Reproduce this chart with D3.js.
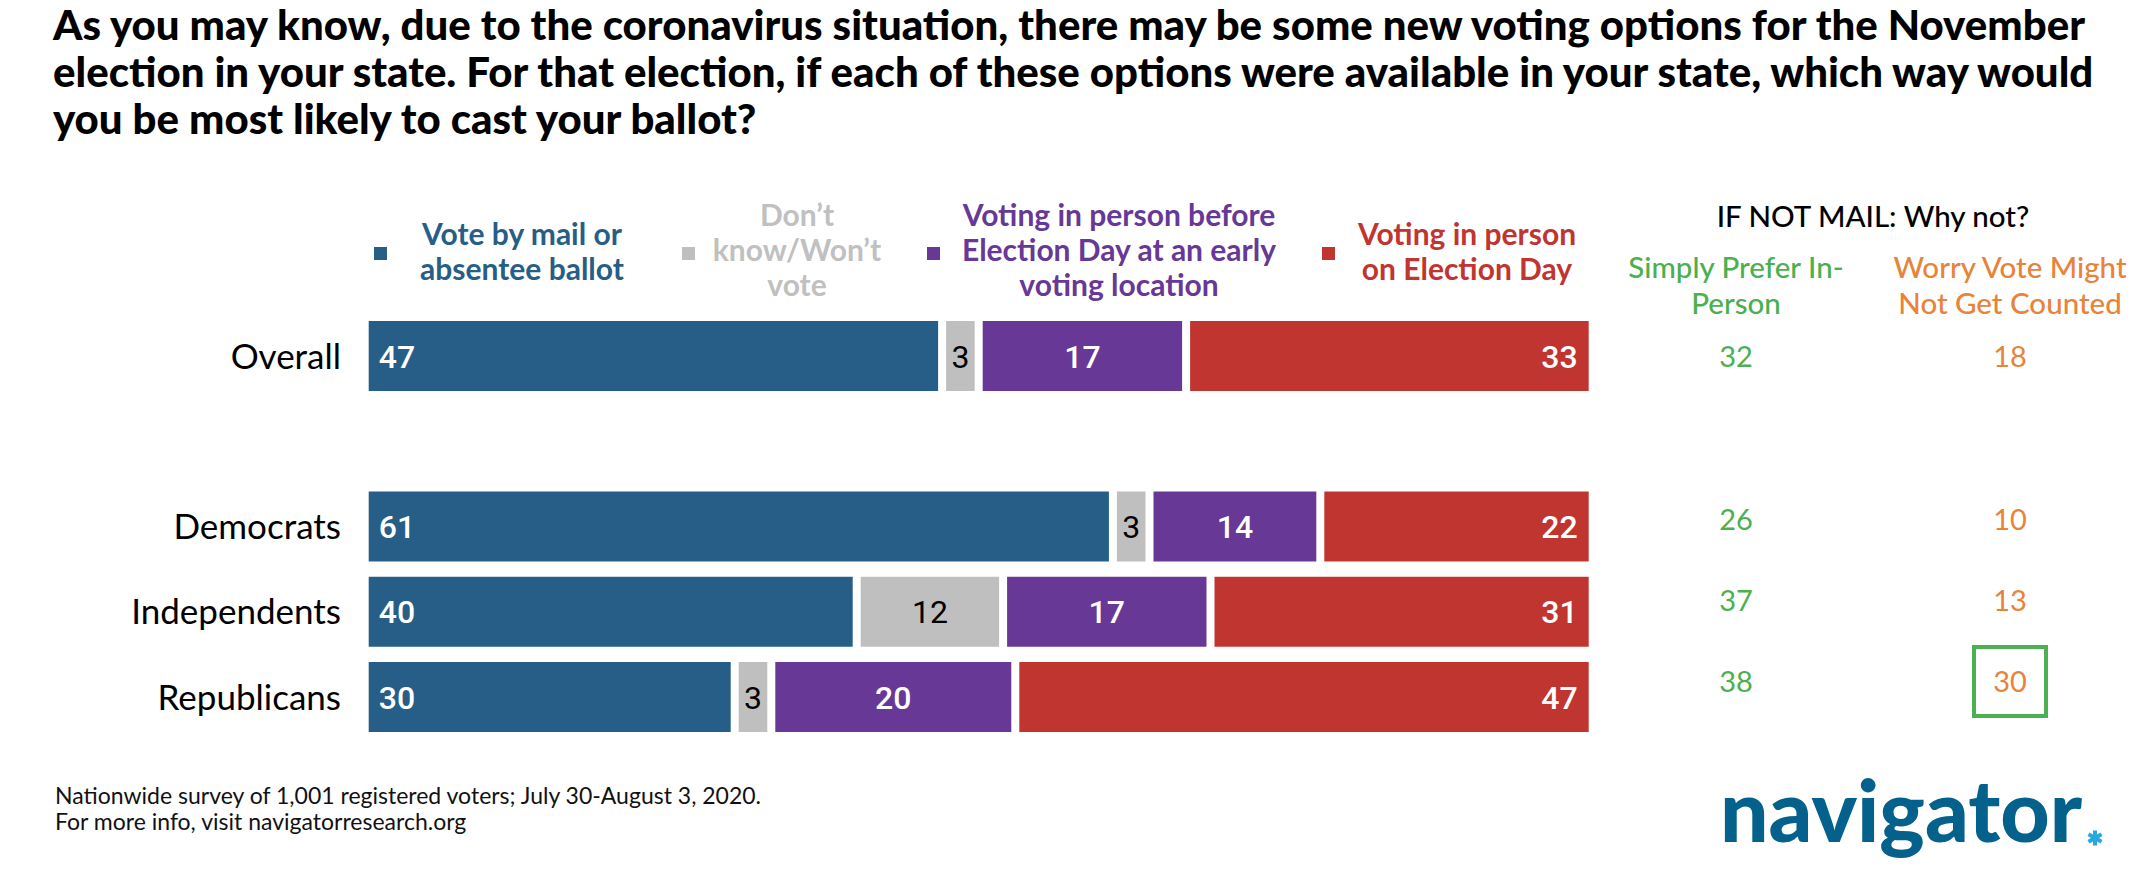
<!DOCTYPE html>
<html>
<head>
<meta charset="utf-8">
<script src="https://cdn.jsdelivr.net/npm/d3@7"></script>
<style>
  body { margin: 0; background: #fff; }
  svg text { font-family: Lato, "Noto Sans", sans-serif; }
</style>
</head>
<body>
<div id="chart"></div>
<script>
// chart data
const groups = ["Overall", "Democrats", "Independents", "Republicans"];
const rowSlots = ["Overall", "spacer", "Democrats", "Independents", "Republicans"];
const mail = [47, 61, 40, 30];
const dontKnow = [3, 3, 12, 3];
const earlyInPerson = [17, 14, 17, 20];
const electionDay = [33, 22, 31, 47];
const preferInPerson = [32, 26, 37, 38];
const worryNotCounted = [18, 10, 13, 30];
const highlightGroup = "Republicans";

const legendLines = [
    ["Vote by mail or", "absentee ballot"],
    ["Don’t", "know/Won’t", "vote"],
    ["Voting in person before", "Election Day at an early", "voting location"],
    ["Voting in person", "on Election Day"]
];
const titleLines = [
    "As you may know, due to the coronavirus situation, there may be some new voting options for the November",
    "election in your state. For that election, if each of these options were available in your state, which way would",
    "you be most likely to cast your ballot?"
];
const whyHeader = "IF NOT MAIL: Why not?";
const whyColumns = [["Simply Prefer In-", "Person"], ["Worry Vote Might", "Not Get Counted"]];
const footLines = [
    "Nationwide survey of 1,001 registered voters; July 30-August 3, 2020.",
    "For more info, visit navigatorresearch.org"
];

const colors = ["#275e87", "#bfbfbf", "#673896", "#c0352f"];
const labelColors = ["#fff", "#000", "#fff", "#fff"];
const green = "#4caf50", orange = "#e8833a";

const width = 2156, height = 886;

const svg = d3.select("#chart")
    .append("svg")
    .attr("width", width)
    .attr("height", height);

// title, font size tuned so the first line spans the same width as the original
const title = svg.append("g");
const titleSize = 31;
title.selectAll("text")
    .data(titleLines)
    .join("text")
    .attr("x", 53)
    .attr("y", (d, i) => 40 + i * 47)
    .style("font-size", titleSize + "px")
    .style("font-weight", 900)
    .attr("fill", "#000")
    .text(d => d);
const firstW = title.select("text").node().getComputedTextLength();
title.selectAll("text").style("font-size", (titleSize * 2033 / firstW) + "px");

// scales
const x = d3.scaleLinear().domain([0, 100]).range([368.7, 1588.7]);
const y = d3.scaleBand().domain(rowSlots).range([321, 732]).paddingInner(0.179);
const yRight = d3.scalePoint().domain(rowSlots).range([356.5, 682]);

// stacked rows
const series = [mail, dontKnow, earlyInPerson, electionDay];
const rows = groups.map((g, i) => {
    let start = 0;
    return {
        group: g,
        segs: series.map((s, j) => {
            const seg = { j, value: s[i], x0: start, x1: start + s[i] };
            start += s[i];
            return seg;
        })
    };
});

const gap = 4;
const rowG = svg.append("g")
    .selectAll("g")
    .data(rows)
    .join("g")
    .attr("transform", d => "translate(0," + y(d.group) + ")");

rowG.selectAll("rect")
    .data(d => d.segs)
    .join("rect")
    .attr("x", d => x(d.x0) + (d.j > 0 ? gap : 0))
    .attr("width", d => x(d.x1) - x(d.x0) - (d.j > 0 ? gap : 0) - (d.j < 3 ? gap : 0))
    .attr("y", 0)
    .attr("height", y.bandwidth())
    .attr("fill", d => colors[d.j]);

rowG.selectAll("text.val")
    .data(d => d.segs)
    .join("text")
    .attr("class", "val")
    .attr("x", d => d.j === 0 ? x(d.x0) + 10 : d.j === 3 ? x(d.x1) - 11 : (x(d.x0) + x(d.x1)) / 2)
    .attr("y", y.bandwidth() / 2)
    .attr("dy", "0.36em")
    .attr("text-anchor", d => d.j === 0 ? "start" : d.j === 3 ? "end" : "middle")
    .style("font-family", "Roboto, sans-serif")
    .style("font-weight", d => d.j === 1 ? 400 : 500)
    .style("font-size", "32px")
    .attr("fill", d => labelColors[d.j])
    .text(d => d.value);

// category labels
svg.append("g")
    .selectAll("text")
    .data(groups)
    .join("text")
    .attr("x", 341)
    .attr("y", d => y(d) + y.bandwidth() / 2)
    .attr("dy", "0.36em")
    .attr("text-anchor", "end")
    .style("font-size", "35px")
    .attr("fill", "#000")
    .text(d => d);

// legend
const legendSquareX = [374, 682, 927, 1322];
const legendTextX = [522, 797, 1119, 1467];
const legend = svg.append("g")
    .selectAll("g")
    .data(legendLines)
    .join("g");
legend.append("rect")
    .attr("x", (d, i) => legendSquareX[i])
    .attr("y", 247)
    .attr("width", 13)
    .attr("height", 13)
    .attr("fill", (d, i) => colors[i]);
legend.each(function (lines, i) {
    const top = lines.length === 3 ? 226 : 245;
    d3.select(this).selectAll("text")
        .data(lines)
        .join("text")
        .attr("x", legendTextX[i])
        .attr("y", (d, k) => top + k * 35)
        .attr("text-anchor", "middle")
        .style("font-size", "30px")
        .style("font-weight", 700)
        .attr("fill", i === 1 ? "#c0c0c0" : colors[i])
        .text(d => d);
});

// right hand "why not" columns
svg.append("text")
    .attr("x", 1873)
    .attr("y", 227)
    .attr("text-anchor", "middle")
    .style("font-size", "29.5px")
    .style("font-weight", 500)
    .attr("fill", "#000")
    .text(whyHeader);

const whyX = [1736, 2010];
const whyColors = [green, orange];
whyColumns.forEach((lines, c) => {
    svg.append("g").selectAll("text")
        .data(lines)
        .join("text")
        .attr("x", whyX[c])
        .attr("y", (d, k) => 278 + k * 36)
        .attr("text-anchor", "middle")
        .style("font-size", "29.5px")
        .style("font-weight", 500)
        .attr("fill", whyColors[c])
        .text(d => d);
});

[preferInPerson, worryNotCounted].forEach((vals, c) => {
    svg.append("g").selectAll("text")
        .data(groups)
        .join("text")
        .attr("x", whyX[c])
        .attr("y", (d, i) => yRight(d))
        .attr("dy", "0.36em")
        .attr("text-anchor", "middle")
        .style("font-size", "29px")
        .attr("fill", whyColors[c])
        .text((d, i) => vals[i]);
});

// highlight box
svg.append("rect")
    .attr("x", whyX[1] - 36)
    .attr("y", yRight(highlightGroup) - 35)
    .attr("width", 72)
    .attr("height", 69)
    .attr("fill", "none")
    .attr("stroke", green)
    .attr("stroke-width", 4);

// footnote
svg.append("g").selectAll("text")
    .data(footLines)
    .join("text")
    .attr("x", 55)
    .attr("y", (d, i) => 804 + i * 26)
    .style("font-size", "23px")
    .attr("fill", "#111")
    .text(d => d);

// logo
svg.append("text")
    .attr("x", 1720)
    .attr("y", 842)
    .attr("textLength", 362)
    .attr("lengthAdjust", "spacingAndGlyphs")
    .style("font-size", "86px")
    .style("font-weight", 900)
    .attr("fill", "#03618c")
    .text("navigator");

// small asterisk after the wordmark
const star = svg.append("g").attr("transform", "translate(2095,838)");
star.selectAll("line")
    .data([90, 30, 150])
    .join("line")
    .attr("x1", d => -7.5 * Math.cos(d * Math.PI / 180))
    .attr("y1", d => -7.5 * Math.sin(d * Math.PI / 180))
    .attr("x2", d => 7.5 * Math.cos(d * Math.PI / 180))
    .attr("y2", d => 7.5 * Math.sin(d * Math.PI / 180))
    .attr("stroke", "#29a8e0")
    .attr("stroke-width", 4);
</script>
</body>
</html>
